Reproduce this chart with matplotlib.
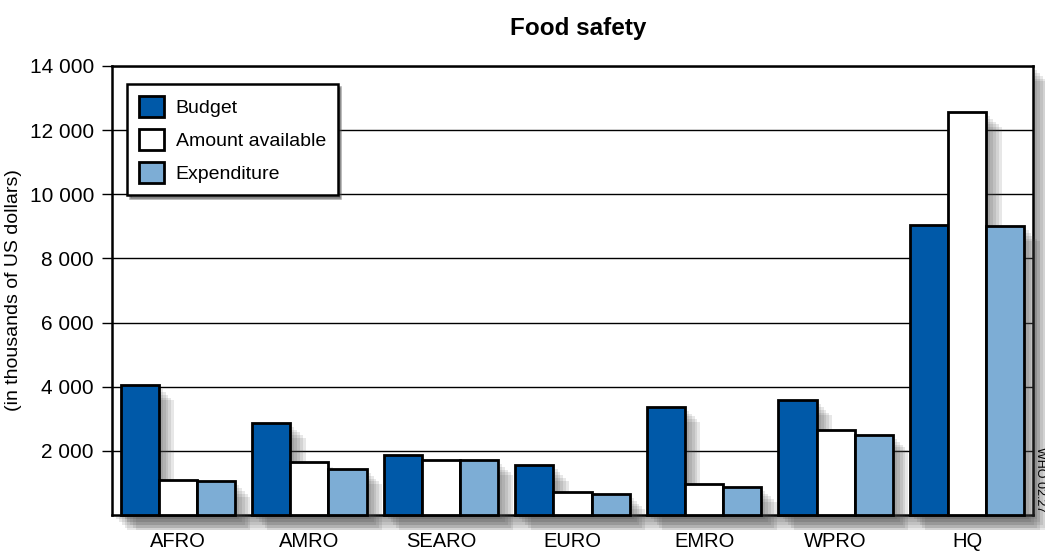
import numpy as np
import matplotlib
matplotlib.use("Agg")
import matplotlib.pyplot as plt
import matplotlib.patheffects as pe
from matplotlib.ticker import FuncFormatter

# data (thousands of US dollars)
regions = ["AFRO", "AMRO", "SEARO", "EURO", "EMRO", "WPRO", "HQ"]
budget = [4050, 2880, 1880, 1550, 3380, 3580, 9050]
available = [1100, 1640, 1700, 720, 980, 2650, 12570]
expenditure = [1050, 1440, 1720, 660, 880, 2500, 9010]

plt.rcParams['font.family'] = ['Liberation Sans', 'DejaVu Sans']

c_budget = '#0059a8'
c_avail = '#ffffff'
c_exp = '#7dadd5'

def shadow():
    return [pe.SimplePatchShadow(offset=(o, -o), shadow_rgbFace='0.3', alpha=0.13)
            for o in (3, 5, 7, 9, 11)] + [pe.Normal()]

fig = plt.figure(figsize=(10.45, 5.54), dpi=100)
ax = fig.add_axes([112 / 1045, 1 - 515 / 554, 921 / 1045, 449 / 554])
ax.patch.set_path_effects(shadow())

x = np.arange(len(regions))
w = 0.29
series = [(budget, c_budget, 'Budget'), (available, c_avail, 'Amount available'),
          (expenditure, c_exp, 'Expenditure')]
for i, (vals, col, lab) in enumerate(series):
    bars = ax.bar(x + (i - 1) * w, vals, w, color=col, edgecolor='black',
                  linewidth=2, label=lab, zorder=3, clip_on=False)
    for b in bars:
        b.set_path_effects(shadow())

ax.set_xlim(-0.5, 6.5)
ax.set_ylim(0, 14000)
ax.set_yticks(np.arange(2000, 14001, 2000))
ax.yaxis.set_major_formatter(FuncFormatter(
    lambda v, p: '{:,.0f}'.format(v).replace(',', ' ')))
ax.yaxis.grid(True, color='black', linewidth=1, zorder=0)
ax.set_axisbelow(True)
ax.set_xticks(x)
ax.set_xticklabels(regions)
ax.tick_params(axis='x', length=0, labelsize=14.5, pad=12)
ax.tick_params(axis='y', length=7, width=1, labelsize=15, pad=6)
for s in ax.spines.values():
    s.set_linewidth(1.8)

ax.set_ylabel('(in thousands of US dollars)', fontsize=14)
ax.yaxis.set_label_coords(-90 / 921, 0.5)
fig.text(578 / 1045, 1 - 28 / 554, 'Food safety', ha='center', va='center',
         fontsize=17.5, fontweight='bold')
fig.text(1040 / 1045, 1 - 480 / 554, 'WHO 02.27', rotation=-90, ha='center',
         va='center', fontsize=9)

leg = ax.legend(loc='upper left', bbox_to_anchor=(15 / 921, 1 - 18 / 449),
                borderaxespad=0, fontsize=14, frameon=True, fancybox=False,
                shadow=True, edgecolor='black', framealpha=1,
                handlelength=1.3, handleheight=1.3,
                borderpad=0.6, labelspacing=0.62, handletextpad=0.6)
leg.get_frame().set_linewidth(1.8)
leg.set_zorder(5)
for h in leg.legend_handles:
    h.set_path_effects([])

fig.savefig('out.png', dpi=100)
